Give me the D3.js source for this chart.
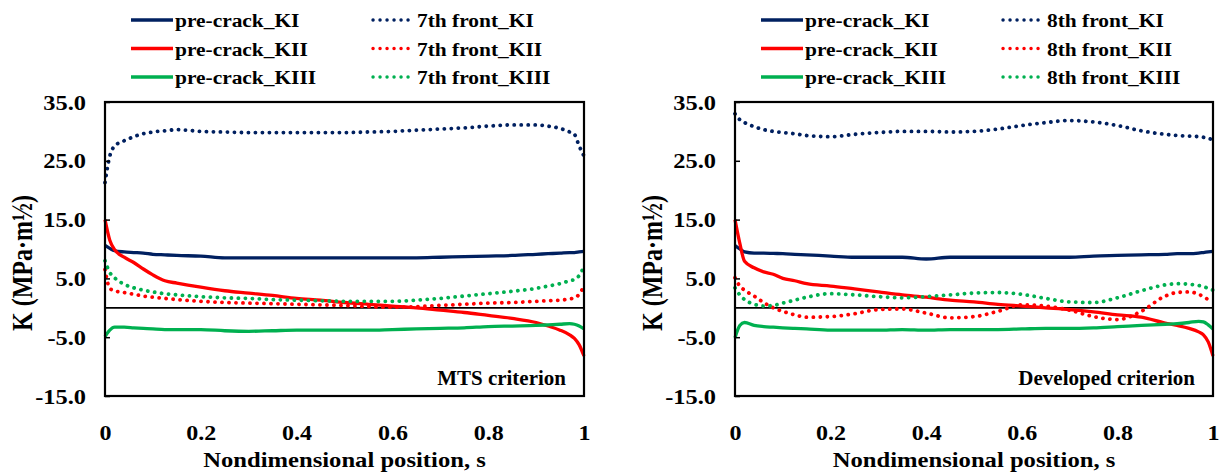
<!DOCTYPE html>
<html><head><meta charset="utf-8">
<script src="https://cdn.jsdelivr.net/npm/d3@7"></script>
<style>
html,body{margin:0;padding:0;background:#fff;}
svg{display:block;}
text{font-family:"Liberation Serif","Times New Roman",serif;font-weight:bold;fill:#000;}
</style></head>
<body>
<svg id="chart" width="1220" height="473"></svg>
<script>
// ---- data ----
const sGrid = [0, 0.01, 0.02, 0.04, 0.06, 0.08, 0.10, 0.125, 0.15, 0.20, 0.25, 0.30, 0.35, 0.40, 0.45, 0.50, 0.55, 0.60, 0.65, 0.70, 0.75, 0.80, 0.85, 0.90, 0.925, 0.95, 0.97, 0.98, 0.99, 1.0];

// MTS criterion panel
const mtsPreKI   = [10.6, 10.1, 9.7, 9.5, 9.4, 9.3, 9.1, 9.0, 8.9, 8.8, 8.5, 8.5, 8.5, 8.5, 8.5, 8.5, 8.5, 8.5, 8.5, 8.6, 8.7, 8.8, 8.9, 9.1, 9.2, 9.3, 9.4, 9.4, 9.5, 9.6];
const mtsPreKII  = [15.0, 11.5, 9.9, 8.6, 7.7, 6.6, 5.6, 4.6, 4.2, 3.5, 2.9, 2.5, 2.1, 1.6, 1.3, 0.9, 0.6, 0.3, 0.0, -0.4, -0.8, -1.3, -1.8, -2.5, -3.1, -3.8, -4.6, -5.2, -6.3, -8.2];
const mtsPreKIII = [-4.9, -3.8, -3.3, -3.3, -3.4, -3.5, -3.6, -3.7, -3.7, -3.7, -3.9, -4.0, -3.9, -3.8, -3.8, -3.8, -3.8, -3.7, -3.6, -3.5, -3.4, -3.2, -3.1, -3.0, -2.9, -2.8, -2.7, -2.8, -3.1, -3.6];
const mts7KI     = [21.3, 25.8, 27.5, 28.4, 29.1, 29.6, 29.9, 30.1, 30.3, 30.0, 29.9, 29.8, 29.8, 29.8, 29.8, 29.8, 29.9, 30.0, 30.2, 30.4, 30.6, 30.9, 31.1, 31.1, 30.9, 30.5, 29.9, 29.5, 27.5, 25.8];
const mts7KII    = [6.5, 3.3, 2.9, 2.6, 2.3, 2.0, 1.8, 1.6, 1.4, 1.1, 0.9, 0.8, 0.7, 0.6, 0.5, 0.4, 0.2, 0.1, 0.2, 0.4, 0.6, 0.8, 0.9, 1.1, 1.2, 1.3, 1.5, 1.7, 2.3, 3.7];
const mts7KIII   = [8.0, 6.0, 5.1, 4.0, 3.4, 3.0, 2.7, 2.4, 2.2, 1.9, 1.7, 1.6, 1.4, 1.3, 1.2, 1.1, 1.1, 1.1, 1.3, 1.6, 2.0, 2.4, 2.8, 3.3, 3.7, 4.1, 4.6, 4.8, 5.5, 7.0];

// Developed criterion panel
const devPreKI   = [10.6, 10.0, 9.5, 9.3, 9.3, 9.25, 9.2, 9.1, 9.0, 8.8, 8.6, 8.6, 8.6, 8.3, 8.6, 8.6, 8.6, 8.6, 8.6, 8.6, 8.8, 8.9, 9.0, 9.1, 9.2, 9.2, 9.3, 9.4, 9.5, 9.6];
const devPreKII  = [15.0, 11.0, 7.9, 6.8, 6.1, 5.7, 5.0, 4.6, 4.1, 3.7, 3.2, 2.7, 2.2, 1.8, 1.3, 1.0, 0.6, 0.3, 0.0, -0.3, -0.7, -1.2, -1.6, -2.6, -3.0, -3.5, -4.1, -4.6, -5.8, -8.2];
const devPreKIII = [-5.1, -3.0, -2.5, -3.0, -3.2, -3.3, -3.4, -3.5, -3.6, -3.8, -3.8, -3.8, -3.7, -3.8, -3.7, -3.7, -3.7, -3.6, -3.5, -3.5, -3.4, -3.2, -3.0, -2.8, -2.7, -2.5, -2.3, -2.4, -2.9, -3.6];
const dev8KI     = [33.0, 32.0, 31.5, 30.8, 30.3, 30.0, 29.8, 29.6, 29.3, 29.1, 29.5, 29.8, 30.0, 30.0, 29.9, 30.0, 30.4, 31.0, 31.5, 31.85, 31.6, 31.0, 30.1, 29.5, 29.3, 29.2, 29.1, 29.0, 28.8, 28.6];
const dev8KII    = [5.1, 3.7, 3.0, 2.0, 0.9, 0.0, -0.6, -1.2, -1.6, -1.5, -1.0, -0.3, -0.2, -0.9, -1.7, -1.5, -0.6, 0.5, 0.3, -0.4, -1.5, -2.0, -0.6, 2.0, 2.6, 2.7, 2.3, 1.9, 1.4, 1.1];
const dev8KIII   = [3.4, 2.2, 1.4, 0.6, 0.3, 0.4, 0.8, 1.3, 1.8, 2.4, 2.2, 1.9, 1.7, 1.9, 2.2, 2.5, 2.6, 2.3, 1.6, 1.0, 0.9, 1.7, 2.9, 3.9, 4.1, 4.0, 3.8, 3.6, 3.3, 3.0];

const yTicks = [-15, -5, 5, 15, 25, 35];
const xTicks = [0, 0.2, 0.4, 0.6, 0.8, 1];
const mtsLabels = ["pre-crack_KI", "pre-crack_KII", "pre-crack_KIII", "7th front_KI", "7th front_KII", "7th front_KIII"];
const devLabels = ["pre-crack_KI", "pre-crack_KII", "pre-crack_KIII", "8th front_KI", "8th front_KII", "8th front_KIII"];
const panelNotes = ["MTS criterion", "Developed criterion"];
const xTitle = "Nondimensional position, s";
const yTitle = "K (MPa\u00B7m\u00BD)";

// ---- drawing ----
const colors = ["#002060", "#FF0000", "#00B050"];
const svg = d3.select("#chart");

const panels = [
  {left: 105, right: 584, series: [mtsPreKI, mtsPreKII, mtsPreKIII, mts7KI, mts7KII, mts7KIII], labels: mtsLabels, note: panelNotes[0]},
  {left: 735, right: 1213, series: [devPreKI, devPreKII, devPreKIII, dev8KI, dev8KII, dev8KIII], labels: devLabels, note: panelNotes[1]}
];
const plotTop = 102, plotBottom = 396;

function stretchText(g, x, y, txt, size, sx, anchor) {
  return g.append("text")
    .attr("transform", `translate(${x},${y}) scale(${sx},1)`)
    .attr("text-anchor", anchor || "start")
    .style("font-size", size + "px")
    .text(txt);
}

panels.forEach(p => {
  const x = d3.scaleLinear().domain([0, 1]).range([p.left, p.right]);
  const y = d3.scaleLinear().domain([-15, 35]).range([plotBottom, plotTop]);
  const g = svg.append("g");

  // zero line
  g.append("line").attr("x1", x(0)).attr("x2", x(1)).attr("y1", y(0)).attr("y2", y(0))
    .attr("stroke", "#000").attr("stroke-width", 1.8);

  // series
  const line = d3.line().x((d, i) => x(sGrid[i])).y(d => y(d)).curve(d3.curveMonotoneX);
  p.series.forEach((vals, k) => {
    const dotted = k >= 3;
    g.append("path").datum(vals).attr("d", line)
      .attr("fill", "none")
      .attr("stroke", colors[k % 3])
      .attr("stroke-width", dotted ? 3.8 : 3.3)
      .attr("stroke-linecap", dotted ? "round" : "butt")
      .attr("stroke-linejoin", "round")
      .attr("stroke-dasharray", dotted ? "0.1 6.9" : null);
  });

  // frame
  g.append("rect").attr("x", p.left).attr("y", plotTop).attr("width", p.right - p.left).attr("height", plotBottom - plotTop)
    .attr("fill", "none").attr("stroke", "#000").attr("stroke-width", 2.2);

  // y axis
  const ya = g.append("g").attr("transform", `translate(${p.left},0)`)
    .call(d3.axisLeft(y).tickValues(yTicks).tickSizeInner(-5).tickSizeOuter(0).tickFormat(d => d.toFixed(1)));
  ya.select(".domain").remove();
  ya.selectAll(".tick line").attr("stroke", "#000").attr("stroke-width", 1.5);
  ya.selectAll(".tick text").attr("x", null).attr("dy", "0.35em")
    .attr("transform", "translate(-19,0) scale(1.22,1)").attr("text-anchor", "end")
    .style("font-size", "20px").attr("font-family", null);

  // x axis labels
  const xa = g.append("g").attr("transform", `translate(0,440)`)
    .call(d3.axisBottom(x).tickValues(xTicks).tickSize(0).tickFormat(d => (d === 0 || d === 1) ? String(d) : d.toFixed(1)));
  xa.select(".domain").remove();
  xa.selectAll(".tick text").attr("y", 0).attr("dy", null)
    .attr("transform", "scale(1.2,1)").style("font-size", "20px").attr("font-family", null);

  // x title
  stretchText(g, (p.left + p.right) / 2, 467, xTitle, 22, 1.12, "middle");

  // y title
  g.append("text")
    .attr("transform", `translate(${p.left - 83},263) rotate(-90) scale(1,1.2)`)
    .attr("text-anchor", "middle").attr("dy", "0.35em")
    .style("font-size", "24px").text(yTitle);

  // note
  stretchText(g, p.right - 18, 385, p.note, 20, 1.05, "end");

  // legend
  const lx1 = p.left + 26, lx2 = p.left + 268;
  const rows = [20, 48.5, 77];
  p.labels.forEach((lab, k) => {
    const col = k >= 3 ? 1 : 0;
    const ry = rows[k % 3];
    const sx = col ? lx2 : lx1;
    const len = col ? 37 : 42;
    g.append("line").attr("x1", sx).attr("x2", sx + len).attr("y1", ry).attr("y2", ry)
      .attr("stroke", colors[k % 3])
      .attr("stroke-width", col ? 3.4 : 3.6)
      .attr("stroke-linecap", col ? "round" : "butt")
      .attr("stroke-dasharray", col ? "0.1 6.9" : null);
    stretchText(g, sx + len + (col ? 7 : 2), ry + 7, lab, 18, 1.19, "start");
  });
});
</script>
</body></html>
